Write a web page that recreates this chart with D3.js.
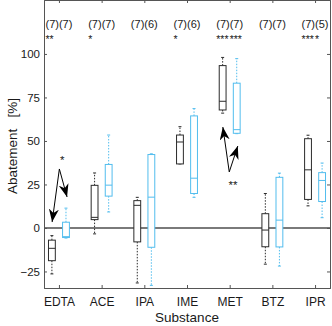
<!DOCTYPE html><html><head><meta charset="utf-8">
<title>Abatement</title>
<script src="https://cdn.jsdelivr.net/npm/d3@7"></script>
<style>
body { margin: 0; background: #fff; }
svg { font-family: "Liberation Sans", Arial, sans-serif; display: block; }
</style>
</head>
<body>
<div id="chart"></div>
<script>
// categories and statistics: [whisker low, q1, median, q3, whisker high]
const substances = ["EDTA", "ACE", "IPA", "IME", "MET", "BTZ", "IPR"];
const blackStats = [
	[-26.4, -18.8, -11.7, -7, -4.4],
	[-3.4, 4.8, 6.1, 24.5, 31.6],
	[-31.6, -8, 13, 15.7, 17.6],
	[36.8, 36.8, 49.4, 53.4, 58.2],
	[66, 67.8, 72.8, 93.3, 98],
	[-20.8, -10.8, -1.2, 8.2, 19.8],
	[12.7, 16.4, 33.4, 51.3, 53.3]
];
const blueStats = [
	[-5.8, -5.5, -5, 3.3, 11.4],
	[9.2, 18.3, 24.6, 36.5, 53.4],
	[-33, -11.1, 17.7, 42.2, 42.6],
	[17.6, 19.8, 28.6, 64.4, 68.6],
	[54.2, 54.4, 56.5, 83.2, 97.3],
	[-21.9, -10.9, 4.5, 29.1, 31.5],
	[5.9, 15.2, 27.3, 31.8, 37.3]
];
const blackN = [7, 7, 7, 7, 7, 7, 7];
const blueN = [7, 7, 6, 6, 7, 7, 5];
const blackStars = ["**", "*", "", "*", "***", "", "***"];
const blueStars = ["", "", "", "", "***", "", "*"];
const yTicks = [-25, 0, 25, 50, 75, 100];
// arrow annotations: [category, value] for start and two tips, star label
const arrowNotes = [
	{ label: "*", at: [0.08, 37], from: [0.01, 33.9], to: [[-0.16, 3.4], [0.19, 17.8]] },
	{ label: "**", at: [4.08, 22.4], from: [3.99, 32.2], to: [[3.84, 58], [4.19, 47.1]] }
];

const W = 332, H = 326;
const mLeft = 44, mRight = 330, mTop = 0, mBottom = 288;
const black = "#2b2b2b", blue = "#52bdee";
const off = 0.165, bw = 0.16;

const svg = d3.select("#chart").append("svg").attr("width", W).attr("height", H);

const x = d3.scaleLinear().domain([-0.35, 6.35]).range([mLeft, mRight]);
const y = d3.scaleLinear().domain([-34.5, 131]).range([mBottom, mTop]);

svg.append("defs").append("marker")
	.attr("id", "head")
	.attr("markerUnits", "userSpaceOnUse")
	.attr("viewBox", "0 0 10 10")
	.attr("refX", 10).attr("refY", 5)
	.attr("markerWidth", 13).attr("markerHeight", 10)
	.attr("orient", "auto")
	.attr("preserveAspectRatio", "none")
	.append("path")
	.attr("d", "M0,0 L10,5 L0,10 L3,5 Z")
	.attr("fill", "#000");

// zero line
svg.append("line")
	.attr("x1", mLeft).attr("x2", mRight)
	.attr("y1", y(0)).attr("y2", y(0))
	.attr("stroke", "#7a7a7a").attr("stroke-width", 2);

// axes (ticks pointing inward)
const gy = svg.append("g").attr("transform", `translate(${mLeft},0)`)
	.call(d3.axisLeft(y).tickValues(yTicks).tickSize(-3).tickPadding(4));
const gyr = svg.append("g").attr("transform", `translate(${mRight},0)`)
	.call(d3.axisRight(y).tickValues(yTicks).tickSize(-3).tickFormat(""));
const gx = svg.append("g").attr("transform", `translate(0,${mBottom})`)
	.call(d3.axisBottom(x).tickValues(d3.range(7)).tickSize(-3).tickPadding(9)
		.tickFormat(i => substances[i]));
const gxt = svg.append("g").attr("transform", `translate(0,${mTop})`)
	.call(d3.axisTop(x).tickValues(d3.range(7)).tickSize(-3).tickFormat(""));
[gy, gyr, gx, gxt].forEach(g => {
	g.select(".domain").attr("stroke", "#555");
	g.selectAll(".tick line").attr("stroke", "#555");
	g.selectAll("text").attr("font-size", 11.5).attr("fill", "#1a1a1a")
		.attr("font-family", "Liberation Sans, Arial, sans-serif");
});
gx.selectAll("text").attr("font-size", 12);

// boxes
function drawBoxes(stats, dx, color) {
	const g = svg.append("g");
	stats.forEach((s, i) => {
		const cx = x(i + dx);
		const hw = (x(bw) - x(0)) / 2;
		const [lo, q1, md, q3, hi] = s;
		g.append("line").attr("x1", cx).attr("x2", cx).attr("y1", y(q3)).attr("y2", y(hi))
			.attr("stroke", color).attr("stroke-dasharray", "1.5,1.5");
		g.append("line").attr("x1", cx).attr("x2", cx).attr("y1", y(q1)).attr("y2", y(lo))
			.attr("stroke", color).attr("stroke-dasharray", "1.5,1.5");
		[lo, hi].forEach(v => g.append("line")
			.attr("x1", cx - 1.5).attr("x2", cx + 1.5).attr("y1", y(v)).attr("y2", y(v))
			.attr("stroke", color));
		g.append("rect")
			.attr("x", cx - hw).attr("width", hw * 2)
			.attr("y", y(q3)).attr("height", y(q1) - y(q3))
			.attr("fill", "#fff").attr("stroke", color).attr("stroke-width", 1);
		g.append("line").attr("x1", cx - hw).attr("x2", cx + hw).attr("y1", y(md)).attr("y2", y(md))
			.attr("stroke", color);
	});
}
drawBoxes(blackStats, -off, black);
drawBoxes(blueStats, off, blue);

// counts and significance stars at the top
substances.forEach((s, i) => {
	const cx = x(i);
	const lt = svg.append("text").attr("x", cx).attr("y", 28)
		.attr("text-anchor", "end").attr("font-size", 11).attr("fill", "#1a1a1a")
		.text(`(${blackN[i]})`);
	svg.append("text").attr("x", cx).attr("y", 28)
		.attr("text-anchor", "start").attr("font-size", 11).attr("fill", "#1a1a1a")
		.text(`(${blueN[i]})`);
	const lw = lt.node().getComputedTextLength();
	svg.append("text").attr("x", cx - lw).attr("y", 43)
		.attr("font-size", 10.5).attr("fill", "#1a1a1a").text(blackStars[i]);
	svg.append("text").attr("x", cx).attr("y", 43)
		.attr("font-size", 10.5).attr("fill", "#1a1a1a").text(blueStars[i]);
});

// arrows
arrowNotes.forEach(a => {
	a.to.forEach(t => {
		svg.append("line")
			.attr("x1", x(a.from[0])).attr("y1", y(a.from[1]))
			.attr("x2", x(t[0])).attr("y2", y(t[1]))
			.attr("stroke", "#000").attr("stroke-width", 1)
			.attr("marker-end", "url(#head)");
	});
	svg.append("text").attr("x", x(a.at[0])).attr("y", y(a.at[1]))
		.attr("text-anchor", "middle").attr("font-size", 11.5).attr("fill", "#1a1a1a")
		.text(a.label);
});

// axis labels
svg.append("text")
	.attr("transform", `translate(17,${146}) rotate(-90)`)
	.attr("text-anchor", "middle").attr("font-size", 13.5).attr("fill", "#1a1a1a")
	.style("white-space", "pre")
	.text("Abatement   [%]");
svg.append("text")
	.attr("x", (mLeft + mRight) / 2).attr("y", 322)
	.attr("text-anchor", "middle").attr("font-size", 13.5).attr("fill", "#1a1a1a")
	.text("Substance");
</script>
</body>
</html>
